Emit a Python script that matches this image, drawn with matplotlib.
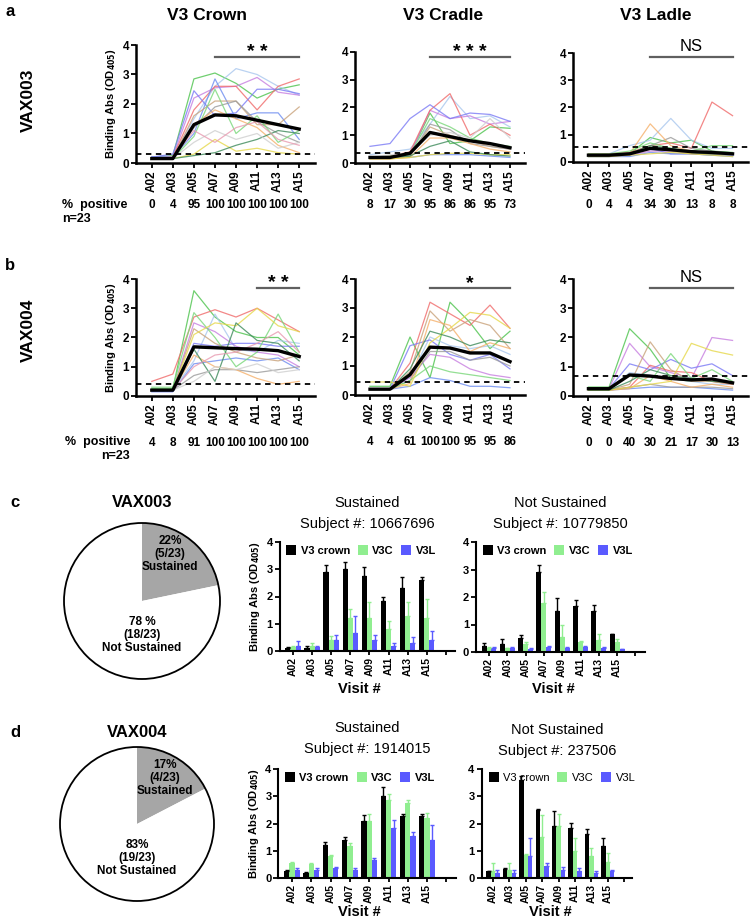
import matplotlib
matplotlib.use("Agg")
import matplotlib.pyplot as plt
import matplotlib.patches as mpatches
import numpy as np

plt.rcParams["font.family"] = ["Liberation Sans", "DejaVu Sans"]

W, H = 750, 922

visits = ["A02", "A03", "A05", "A07", "A09", "A11", "A13", "A15"]

line_colors = ["#4cc34c", "#a9c7ee", "#c77ee0", "#f06a6a", "#7a7af5", "#6c8cf0",
               "#c9a27a", "#9a9a9a", "#f5b06a", "#79d779", "#e6d84a", "#3d8a5a",
               "#cfcfcf", "#e89ab0"]

# ---- panel a: VAX003 ----
crown003 = [
    [0.2, 0.25, 2.85, 3.05, 2.7, 2.2, 2.5, 2.65],
    [0.2, 0.2, 1.5, 2.6, 3.2, 3.0, 2.6, 2.3],
    [0.2, 0.2, 2.2, 2.55, 2.6, 2.9, 2.4, 2.3],
    [0.15, 0.2, 1.8, 2.6, 2.6, 1.8, 2.6, 2.85],
    [0.2, 0.3, 2.45, 1.6, 1.7, 2.5, 2.5, 2.35],
    [0.2, 0.2, 1.0, 2.85, 1.5, 1.7, 1.7, 0.8],
    [0.15, 0.15, 1.6, 2.1, 2.1, 1.3, 1.3, 1.9],
    [0.15, 0.15, 1.2, 1.9, 2.1, 1.4, 1.0, 0.7],
    [0.15, 0.15, 1.3, 1.8, 1.5, 1.2, 0.6, 0.35],
    [0.15, 0.15, 0.9, 2.5, 1.0, 1.6, 0.7, 1.1],
    [0.15, 0.15, 0.3, 0.8, 0.4, 0.5, 0.35, 0.3],
    [0.15, 0.15, 0.25, 0.35, 0.6, 0.8, 1.1, 1.0],
    [0.15, 0.15, 0.7, 1.1, 0.8, 1.0, 0.5, 0.7],
    [0.15, 0.2, 1.1, 0.7, 1.2, 1.4, 0.8, 0.6],
]
crown003_mean = [0.15, 0.15, 1.3, 1.63, 1.6, 1.45, 1.3, 1.15]
crown003_cut = 0.3
crown003_pos = ["0", "4", "95", "100", "100", "100", "100", "100"]

cradle003 = [
    [0.2, 0.2, 0.3, 1.8, 0.7, 0.8, 1.3, 1.25],
    [0.3, 0.4, 0.5, 1.4, 2.4, 1.6, 1.7, 1.3],
    [0.2, 0.2, 0.3, 1.9, 1.6, 1.7, 1.4, 1.5],
    [0.2, 0.25, 0.4, 1.9, 2.5, 1.0, 1.4, 1.0],
    [0.6, 0.7, 1.6, 2.1, 1.6, 1.8, 1.75, 1.5],
    [0.2, 0.2, 0.2, 0.3, 0.3, 0.3, 0.25, 0.2],
    [0.15, 0.15, 0.25, 1.3, 1.0, 0.8, 0.6, 0.5],
    [0.2, 0.2, 0.25, 1.4, 1.2, 0.7, 0.6, 0.5],
    [0.15, 0.15, 0.2, 0.9, 0.9, 0.7, 0.5, 0.4],
    [0.2, 0.25, 0.3, 1.6, 1.3, 0.9, 0.7, 0.6],
    [0.15, 0.15, 0.2, 0.3, 0.35, 0.35, 0.3, 0.3],
    [0.2, 0.2, 0.25, 0.6, 0.8, 0.4, 0.3, 0.25],
    [0.2, 0.3, 0.35, 1.0, 1.1, 0.9, 1.6, 0.9],
]
cradle003_mean = [0.2, 0.2, 0.35, 1.1, 0.95, 0.8, 0.7, 0.55]
cradle003_cut = 0.35
cradle003_pos = ["8", "17", "30", "95", "86", "86", "95", "73"]

ladle003 = [
    [0.2, 0.2, 0.3, 0.9, 0.7, 0.8, 0.4, 0.35],
    [0.25, 0.3, 0.6, 0.8, 1.6, 0.8, 0.5, 0.5],
    [0.2, 0.2, 0.25, 0.4, 0.4, 0.35, 0.3, 0.3],
    [0.3, 0.3, 0.35, 0.6, 0.7, 0.5, 2.2, 1.7],
    [0.25, 0.25, 0.3, 0.5, 0.3, 0.3, 0.25, 0.25],
    [0.2, 0.2, 0.2, 0.35, 0.3, 0.3, 0.25, 0.2],
    [0.25, 0.25, 0.3, 0.5, 0.4, 0.3, 0.3, 0.3],
    [0.25, 0.25, 0.3, 0.6, 0.9, 0.5, 0.4, 0.3],
    [0.25, 0.25, 0.3, 1.4, 0.6, 0.4, 0.3, 0.3],
    [0.3, 0.3, 0.4, 0.7, 0.5, 0.4, 0.6, 0.6],
    [0.2, 0.2, 0.25, 0.3, 0.35, 0.3, 0.25, 0.2],
    [0.25, 0.25, 0.3, 0.6, 0.5, 0.35, 0.3, 0.3],
]
ladle003_mean = [0.25, 0.25, 0.3, 0.5, 0.45, 0.38, 0.35, 0.3]
ladle003_cut = 0.55
ladle003_pos = ["0", "4", "4", "34", "30", "13", "8", "8"]

# ---- panel b: VAX004 ----
crown004 = [
    [0.25, 0.25, 3.6, 2.7, 2.2, 2.0, 2.0, 1.4],
    [0.2, 0.2, 1.2, 2.8, 1.6, 1.5, 1.9, 1.8],
    [0.2, 0.2, 2.5, 2.2, 1.7, 1.5, 1.4, 1.0],
    [0.5, 0.75, 2.7, 2.95, 2.7, 3.0, 2.6, 2.2],
    [0.15, 0.15, 1.8, 1.7, 1.8, 1.8, 1.7, 1.7],
    [0.15, 0.15, 1.1, 1.2, 1.3, 1.2, 1.3, 0.9],
    [0.2, 0.2, 2.3, 1.8, 1.5, 1.3, 1.2, 1.4],
    [0.2, 0.2, 0.7, 0.9, 0.9, 0.8, 0.9, 1.0],
    [0.2, 0.2, 1.4, 1.0, 0.9, 0.6, 0.4, 0.5],
    [0.3, 0.3, 2.85, 2.0, 1.0, 1.5, 2.8, 1.5],
    [0.2, 0.2, 2.1, 2.5, 2.4, 3.0, 2.4, 2.2],
    [0.2, 0.2, 1.6, 0.5, 2.5, 1.9, 1.8, 1.2],
    [0.2, 0.2, 0.5, 1.0, 0.9, 1.1, 0.8, 0.9],
    [0.2, 0.2, 1.0, 1.4, 1.5, 1.8, 2.2, 1.5],
]
crown004_mean = [0.2, 0.2, 1.68, 1.65, 1.62, 1.6, 1.55, 1.35]
crown004_cut = 0.4
crown004_pos = ["4", "8", "91", "100", "100", "100", "100", "100"]

cradle004 = [
    [0.3, 0.3, 2.0, 0.6, 3.2, 2.5, 1.6, 2.2],
    [0.2, 0.2, 0.6, 2.0, 1.7, 1.6, 1.7, 1.4],
    [0.2, 0.2, 0.6, 1.4, 1.3, 0.9, 0.7, 0.6],
    [0.2, 0.2, 1.1, 3.2, 2.8, 2.4, 3.1, 2.3],
    [0.2, 0.2, 1.7, 1.9, 1.4, 1.2, 1.4, 0.9],
    [0.2, 0.2, 0.3, 0.6, 0.5, 0.3, 0.3, 0.25],
    [0.2, 0.2, 0.8, 2.9, 2.2, 2.6, 2.4, 1.6],
    [0.2, 0.2, 0.5, 1.5, 1.5, 1.2, 1.3, 1.0],
    [0.2, 0.2, 0.4, 2.6, 2.4, 1.5, 1.8, 1.6],
    [0.2, 0.2, 0.5, 1.0, 0.8, 0.7, 0.6, 0.5],
    [0.45, 0.45, 0.3, 1.8, 2.3, 2.85, 2.75, 2.3],
    [0.2, 0.2, 0.9, 2.2, 2.0, 1.7, 1.9, 1.8],
]
cradle004_mean = [0.2, 0.2, 0.7, 1.65, 1.62, 1.45, 1.45, 1.15]
cradle004_cut = 0.45
cradle004_pos = ["4", "4", "61", "100", "100", "95", "95", "86"]

ladle004 = [
    [0.3, 0.3, 2.3, 1.6, 0.6, 0.5, 0.6, 0.4],
    [0.25, 0.25, 0.8, 0.7, 0.6, 0.5, 0.4, 0.4],
    [0.25, 0.25, 1.8, 1.0, 0.8, 0.6, 2.0, 1.9],
    [0.2, 0.2, 0.3, 1.05, 0.85, 0.8, 0.5, 0.4],
    [0.25, 0.25, 1.1, 0.9, 1.25, 0.95, 1.1, 0.7],
    [0.2, 0.2, 0.25, 0.3, 0.3, 0.3, 0.25, 0.2],
    [0.2, 0.2, 0.4, 1.85, 0.9, 0.5, 0.5, 0.4],
    [0.2, 0.2, 0.3, 0.4, 0.3, 0.3, 0.3, 0.25],
    [0.2, 0.2, 0.25, 0.7, 0.5, 0.3, 0.4, 0.3],
    [0.3, 0.3, 0.7, 0.5, 1.45, 0.6, 0.9, 0.5],
    [0.2, 0.2, 0.3, 0.4, 0.5, 1.8, 1.55, 1.4],
    [0.2, 0.2, 0.5, 0.9, 0.7, 0.6, 0.5, 0.45],
]
ladle004_mean = [0.25, 0.25, 0.72, 0.68, 0.6, 0.55, 0.58, 0.45]
ladle004_cut = 0.7
ladle004_pos = ["0", "0", "40", "30", "21", "17", "30", "13"]

# ---- panels c/d: pies ----
pie003 = [5, 18]
pie004 = [4, 19]

# ---- panels c/d: single-subject bars (value, error) ----
c1_crown = [0.1, 0.12, 2.9, 3.0, 2.75, 1.85, 2.3, 2.6]
c1_crown_err = [0.05, 0.05, 0.25, 0.25, 0.35, 0.15, 0.4, 0.12]
c1_v3c = [0.15, 0.2, 0.4, 1.2, 1.2, 0.8, 1.3, 1.2]
c1_v3c_err = [0.05, 0.1, 0.15, 0.35, 0.6, 0.3, 0.5, 0.7]
c1_v3l = [0.2, 0.15, 0.4, 0.65, 0.4, 0.2, 0.3, 0.4]
c1_v3l_err = [0.15, 0.03, 0.2, 0.65, 0.2, 0.1, 0.2, 0.35]

c2_crown = [0.22, 0.3, 0.5, 2.9, 1.5, 1.67, 1.5, 0.64]
c2_crown_err = [0.12, 0.18, 0.12, 0.28, 0.45, 0.23, 0.2, 0.03]
c2_v3c = [0.15, 0.13, 0.3, 1.8, 0.55, 0.36, 0.42, 0.36]
c2_v3c_err = [0.05, 0.03, 0.05, 0.4, 0.45, 0.05, 0.25, 0.1]
c2_v3l = [0.15, 0.15, 0.12, 0.2, 0.15, 0.18, 0.15, 0.1]
c2_v3l_err = [0.02, 0.02, 0.02, 0.03, 0.02, 0.03, 0.02, 0.02]

d1_crown = [0.25, 0.18, 1.22, 1.4, 2.08, 3.0, 2.29, 2.26]
d1_crown_err = [0.06, 0.03, 0.1, 0.1, 0.25, 0.35, 0.05, 0.08]
d1_v3c = [0.55, 0.5, 0.8, 1.16, 2.1, 2.87, 2.75, 2.2]
d1_v3c_err = [0.05, 0.05, 0.05, 0.12, 0.25, 0.2, 0.12, 0.2]
d1_v3l = [0.3, 0.3, 0.37, 0.3, 0.67, 1.83, 1.53, 1.41]
d1_v3l_err = [0.05, 0.05, 0.03, 0.06, 0.08, 0.3, 0.15, 0.55]

d2_crown = [0.25, 0.33, 3.6, 2.5, 1.9, 1.83, 1.6, 1.16]
d2_crown_err = [0.02, 0.03, 0.15, 0.05, 0.55, 0.2, 0.2, 0.3]
d2_v3c = [0.25, 0.3, 0.85, 1.5, 1.9, 1.0, 0.8, 0.6]
d2_v3c_err = [0.3, 0.25, 0.02, 0.8, 0.45, 0.45, 0.3, 0.3]
d2_v3l = [0.2, 0.2, 0.8, 0.45, 0.3, 0.25, 0.2, 0.25]
d2_v3l_err = [0.1, 0.1, 0.65, 0.1, 0.1, 0.1, 0.05, 0.05]

fig = plt.figure(figsize=(W / 100, H / 100), dpi=100)


def add_ax(x0, x1, ytop, ybot):
    return fig.add_axes([x0 / W, 1 - ybot / H, (x1 - x0) / W, (ybot - ytop) / H])


def ftext(x, y, s, **kw):
    fig.text(x / W, 1 - y / H, s, **kw)


def style_axis(ax, lw=1.8):
    for side in ["top", "right"]:
        ax.spines[side].set_visible(False)
    ax.spines["left"].set_linewidth(lw)
    ax.spines["bottom"].set_linewidth(lw)
    ax.tick_params(width=1.3, length=3.5, labelsize=8.5, pad=1.5)
    for lab in ax.get_xticklabels() + ax.get_yticklabels():
        lab.set_fontweight("bold")


def spaghetti(box, subjects, mean, cutoff, pct, sig_from, sig_text, sig_y,
              pct_off, ylabel=False):
    ax = add_ax(*box)
    x = np.arange(len(visits))
    for i, s in enumerate(subjects):
        ax.plot(x, s, color=line_colors[i % len(line_colors)], lw=0.9, alpha=0.8)
    ax.plot(x, mean, color="black", lw=2.4, zorder=5)
    ax.axhline(cutoff, color="black", ls=(0, (3, 2.5)), lw=1.3, zorder=6)
    ax.set_xlim(-0.75, 7.75)
    ax.set_ylim(0, 4)
    ax.set_yticks([0, 1, 2, 3, 4])
    ax.set_xticks(x)
    ax.set_xticklabels(visits, rotation=90)
    style_axis(ax)
    ax.plot([sig_from, 7], [sig_y, sig_y], color="#606060", lw=1.6, clip_on=False)
    if sig_text == "NS":
        ax.text((sig_from + 7) / 2, sig_y + 0.1, sig_text, ha="center", va="bottom",
                fontsize=12)
    else:
        ax.text((sig_from + 7) / 2, sig_y - 0.15, sig_text, ha="center", va="bottom",
                fontsize=14, fontweight="bold")
    for i, p in enumerate(pct):
        ax.annotate(p, xy=(i, 0), xycoords=("data", "axes fraction"),
                    xytext=(0, -pct_off), textcoords="offset points",
                    ha="center", va="center", fontsize=8.5, fontweight="bold")
    if ylabel:
        ax.set_ylabel("Binding Abs (OD$_{\\mathbf{405}}$)", fontsize=8,
                      fontweight="bold", labelpad=3)
    return ax


# row a
spaghetti((136, 315, 45, 163), crown003, crown003_mean, crown003_cut, crown003_pos,
          3, "* *", 3.6, 30, ylabel=True)
spaghetti((355, 525, 52, 163), cradle003, cradle003_mean, cradle003_cut, cradle003_pos,
          3, "* * *", 3.82, 30)
spaghetti((573, 748, 53, 162), ladle003, ladle003_mean, ladle003_cut, ladle003_pos,
          3, "NS", 3.85, 31)
# row b
spaghetti((136, 315, 279, 396), crown004, crown004_mean, crown004_cut, crown004_pos,
          5, "* *", 3.69, 34, ylabel=True)
spaghetti((355, 525, 279, 395), cradle004, cradle004_mean, cradle004_cut, cradle004_pos,
          3, "*", 3.69, 34)
spaghetti((573, 748, 279, 396), ladle004, ladle004_mean, ladle004_cut, ladle004_pos,
          3, "NS", 3.69, 34)

# headers
ftext(207, 15, "V3 Crown", ha="center", va="center", fontsize=12.5, fontweight="bold")
ftext(443, 15, "V3 Cradle", ha="center", va="center", fontsize=12.5, fontweight="bold")
ftext(656, 15, "V3 Ladle", ha="center", va="center", fontsize=12.5, fontweight="bold")
ftext(28, 100, "VAX003", ha="center", va="center", rotation=90, fontsize=12.5,
      fontweight="bold")
ftext(28, 330, "VAX004", ha="center", va="center", rotation=90, fontsize=12.5,
      fontweight="bold")
for lx, ly, letter in [(5, 12, "a"), (5, 265, "b"), (10, 502, "c"), (10, 732, "d")]:
    ftext(lx, ly, letter, ha="left", va="center", fontsize=12, fontweight="bold")
ftext(62, 205, "%  positive", ha="left", va="center", fontsize=9, fontweight="bold")
ftext(62, 219, "n=23", ha="left", va="center", fontsize=9, fontweight="bold")
ftext(130, 442, "%  positive", ha="right", va="center", fontsize=9, fontweight="bold")
ftext(130, 456, "n=23", ha="right", va="center", fontsize=9, fontweight="bold")


def pie(center, r, counts, title, title_y, top_txt, bot_txt):
    cx, cy = center
    ax = add_ax(cx - r - 2, cx + r + 2, cy - r - 2, cy + r + 2)
    ax.pie(counts, colors=["#a6a6a6", "white"], startangle=90, counterclock=False,
           wedgeprops=dict(edgecolor="none"))
    ax.add_patch(mpatches.Circle((0, 0), 1, fill=False, lw=1.3, ec="black"))
    lim = (r + 2) / r
    ax.set_xlim(-lim, lim)
    ax.set_ylim(-lim, lim)
    ax.set_aspect("equal")
    ax.axis("off")
    ax.text(0.36, 0.6, top_txt, ha="center", va="center", fontsize=8.5,
            fontweight="bold", linespacing=1.1)
    ax.text(0, -0.44, bot_txt, ha="center", va="center", fontsize=8.5,
            fontweight="bold", linespacing=1.1)
    ftext(cx, title_y, title, ha="center", va="center", fontsize=12, fontweight="bold")


pie((142, 601), 78, pie003, "VAX003", 502, "22%\n(5/23)\nSustained",
    "78 %\n(18/23)\nNot Sustained")
pie((137, 824), 77, pie004, "VAX004", 732, "17%\n(4/23)\nSustained",
    "83%\n(19/23)\nNot Sustained")


def bars(a02, sp, ytop, ybot, crown, crown_err, v3c, v3c_err, v3l, v3l_err,
         title1, title2, t_y, visit_y, ylabel=False, bold_legend=True):
    x0 = a02 - 0.7 * sp
    x1 = a02 + 8.5 * sp
    ax = add_ax(x0, x1, ytop, ybot)
    x = np.arange(len(visits))
    w = 0.27
    series = [(crown, crown_err, "black", "V3 crown", -w),
              (v3c, v3c_err, "#90ee90", "V3C", 0),
              (v3l, v3l_err, "#5a5aff", "V3L", w)]
    for vals, err, col, lab, off in series:
        ax.bar(x + off, vals, width=w, color=col, label=lab)
        ax.errorbar(x + off, vals, yerr=[np.zeros(len(err)), err], fmt="none",
                    ecolor=col, elinewidth=1.0, capsize=1.2, capthick=1.0)
    ax.set_xlim(-0.7, 8.5)
    ax.set_ylim(0, 4)
    ax.set_yticks([0, 1, 2, 3, 4])
    ax.set_xticks(list(x) + [8])
    ax.set_xticklabels(visits + [""], rotation=90)
    style_axis(ax, lw=1.5)
    ax.tick_params(axis="y", labelsize=8)
    ax.tick_params(axis="x", labelsize=7.5, pad=1, length=3)
    ax.legend(ncol=3, loc="upper left", bbox_to_anchor=(-0.02, 1.06),
              frameon=False, handlelength=0.9, handleheight=0.9,
              handletextpad=0.4, columnspacing=0.7,
              prop={"size": 8, "weight": "bold" if bold_legend else "normal"})
    cx = (x0 + x1) / 2
    ftext(cx, t_y, title1, ha="center", va="center", fontsize=10.5)
    ftext(cx, t_y + 21, title2, ha="center", va="center", fontsize=10.5)
    if ylabel:
        ax.set_ylabel("Binding Abs (OD$_{\\mathbf{405}}$)", fontsize=8,
                      fontweight="bold", labelpad=3)
    ftext(a02 + 3.5 * sp, visit_y, "Visit #", ha="center", va="center",
          fontsize=10.5, fontweight="bold")
    return ax


bars(293, 19.1, 542, 651, c1_crown, c1_crown_err, c1_v3c, c1_v3c_err, c1_v3l,
     c1_v3l_err, "Sustained", "Subject #: 10667696", 503, 689, ylabel=True)
bars(489, 18.3, 542, 652, c2_crown, c2_crown_err, c2_v3c, c2_v3c_err, c2_v3l,
     c2_v3l_err, "Not Sustained", "Subject #: 10779850", 503, 689)
bars(292, 19.3, 769, 878, d1_crown, d1_crown_err, d1_v3c, d1_v3c_err, d1_v3l,
     d1_v3l_err, "Sustained", "Subject #: 1914015", 728, 912, ylabel=True)
bars(493, 16.4, 769, 878, d2_crown, d2_crown_err, d2_v3c, d2_v3c_err, d2_v3l,
     d2_v3l_err, "Not Sustained", "Subject #: 237506", 730, 912, bold_legend=False)

fig.savefig("out.png", dpi=100)
